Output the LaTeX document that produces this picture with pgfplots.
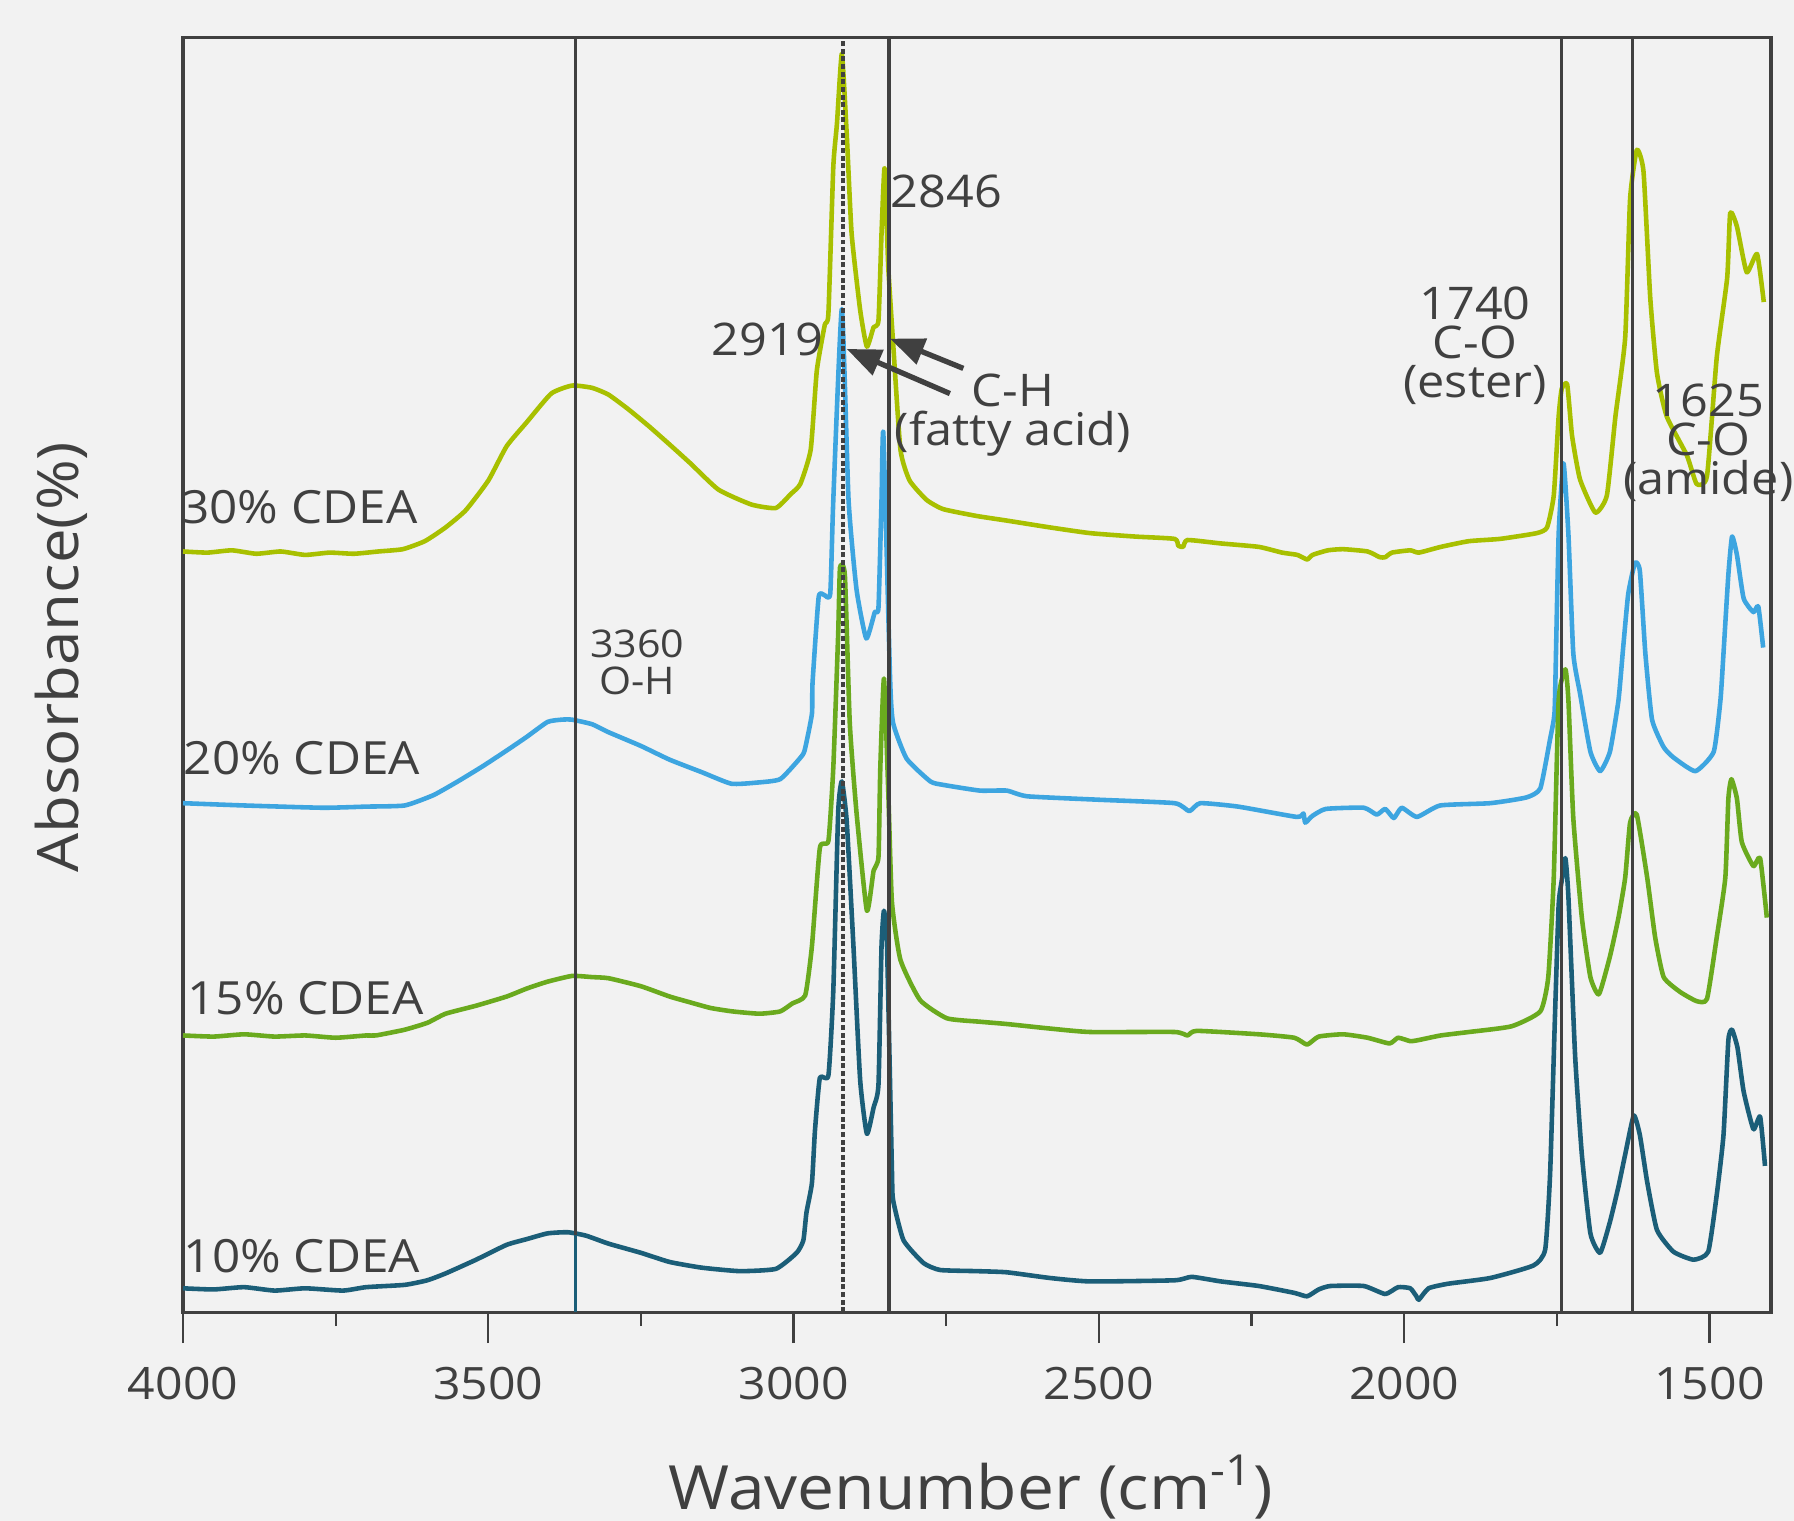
\documentclass[border=0pt]{standalone}
\usepackage{fontspec}
\setmainfont{Open Sans}[FakeStretch=1.08]
\usepackage{pgfplots}
\pgfplotsset{compat=1.18}
\usetikzlibrary{arrows.meta}

\definecolor{bg}{HTML}{F2F2F2}
\definecolor{ink}{HTML}{404040}
\definecolor{c30}{HTML}{A8C000}
\definecolor{c20}{HTML}{3DA5E0}
\definecolor{c15}{HTML}{6AAA1E}
\definecolor{c10}{HTML}{1B5E78}

\newcommand{\annfont}{\fontsize{11.8}{10.2}\selectfont}

\begin{document}
\begin{tikzpicture}
\path[use as bounding box, fill=bg] (0,0) rectangle (470.4pt,398.7pt);
\begin{axis}[
  at={(48pt,54.6pt)}, anchor=south west,
  width=416.4pt, height=334.2pt, scale only axis,
  x dir=reverse, xmin=1399, xmax=4000, ymin=0, ymax=1114,
  clip=false,
  axis line style={ink, line width=0.9pt},
  xtick={1500,2000,...,4000},
  minor xtick={1750,2250,2750,3250,3750},
  ytick=\empty,
  xtick pos=bottom, tick align=outside,
  major tick length=8.1pt, minor tick length=3.6pt,
  every tick/.style={ink, line width=0.6pt},
  /pgf/number format/assume math mode=true,
  /pgf/number format/set thousands separator={},
  xticklabel style={font=\fontsize{11.7}{14}\selectfont, text=ink, yshift=-2.7pt},
  xlabel={Wavenumber (cm\textsuperscript{-1})},
  xlabel style={at={(axis description cs:0.496,-0.137)}, anchor=center,
    font=\fontsize{16}{18}\selectfont, text=ink},
  ylabel={Absorbance(\%)},
  ylabel style={at={(axis description cs:-0.0767,0.514)}, anchor=center,
    font=\fontsize{15}{18}\selectfont, text=ink},
  no markers,
  every axis plot/.append style={line width=1.2pt, line join=round},
]
% 30% CDEA
\addplot[c30, smooth, tension=0.3] coordinates {
(4000,665)(3960,664)(3920,666)(3880,663)(3840,665)(3800,662)(3760,664)(3720,663)(3680,665)(3640,667)
(3604,674)(3570,686)(3537,701)(3500,727)(3470,757)(3437,778)(3397,803)(3363,810)(3330,808)(3303,802)
(3270,789)(3236,774)(3200,757)(3169,742)(3123,719)(3069,706)(3029,703)(3005,715)(2989,724)(2972,754)
(2962,823)(2949,863)(2943,873)(2935,1001)(2929,1039)(2921,1100)(2913,1030)(2905,943)(2891,876)(2880,844)
(2869,861)(2861,867)(2856,943)(2851,1000)(2845,914)(2837,847)(2825,754)(2810,727)(2782,710)(2755,702)
(2700,696)(2651,692)(2580,686)(2514,681)(2440,678)(2376,676)(2370,670)(2362,669)(2355,675)(2300,672)
(2238,669)(2200,664)(2175,662)(2159,658)(2150,662)(2125,666)(2100,667)(2060,665)(2040,660)(2031,660)
(2020,664)(1990,666)(1976,664)(1940,669)(1894,674)(1843,676)(1783,681)(1766,686)(1755,714)(1747,783)
(1742,807)(1733,811)(1725,766)(1712,728)(1687,699)(1668,714)(1654,783)(1638,852)(1630,973)(1619,1016)
(1608,997)(1597,887)(1586,821)(1570,783)(1537,749)(1521,724)(1504,731)(1488,835)(1471,904)(1466,961)
(1455,949)(1439,909)(1422,925)(1411,883)};
% 20% CDEA
\addplot[c20, smooth, tension=0.3] coordinates {
(4000,445)(3900,443)(3771,441)(3700,442)(3637,443)(3590,452)(3550,464)(3510,477)(3470,491)(3437,503)
(3403,516)(3380,518)(3363,518)(3330,514)(3303,507)(3250,495)(3203,483)(3150,472)(3102,462)(3060,463)
(3022,466)(2990,484)(2982,491)(2970,523)(2969,550)(2959,625)(2950,627)(2940,628)(2935,710)(2921,877)
(2910,710)(2897,632)(2881,589)(2867,612)(2861,616)(2856,710)(2853,768)(2842,554)(2837,515)(2815,484)
(2776,464)(2755,461)(2695,456)(2651,456)(2617,451)(2500,448)(2376,445)(2352,438)(2334,445)(2272,442)
(2176,433)(2165,436)(2162,428)(2150,434)(2128,440)(2066,441)(2045,435)(2031,440)(2017,432)(2004,441)
(1979,433)(1941,443)(1859,445)(1800,450)(1777,458)(1761,501)(1755,518)(1753,535)(1747,680)(1739,742)
(1731,680)(1723,576)(1712,541)(1695,490)(1679,473)(1663,490)(1649,535)(1641,583)(1633,628)(1622,655)
(1614,648)(1605,576)(1594,518)(1575,494)(1559,485)(1523,473)(1493,490)(1482,535)(1477,576)(1469,645)
(1463,678)(1455,662)(1444,624)(1428,612)(1420,617)(1412,581)};
% 15% CDEA
\addplot[c15, smooth, tension=0.3] coordinates {
(4000,242)(3950,241)(3900,243)(3850,241)(3800,242)(3750,240)(3700,242)(3684,242)(3637,247)(3600,253)
(3570,261)(3520,268)(3470,276)(3437,283)(3403,289)(3363,294)(3330,293)(3303,292)(3250,285)(3203,276)
(3170,271)(3136,266)(3100,263)(3056,261)(3022,263)(3002,270)(2981,277)(2970,320)(2957,406)(2943,412)
(2935,476)(2927,593)(2924,651)(2916,644)(2908,515)(2897,437)(2880,351)(2869,386)(2861,398)(2858,476)
(2852,554)(2845,456)(2839,359)(2825,308)(2793,273)(2749,257)(2695,254)(2651,252)(2580,248)(2514,245)
(2376,245)(2355,242)(2340,246)(2238,243)(2180,240)(2159,234)(2140,241)(2100,243)(2060,240)(2024,235)
(2010,240)(1990,237)(1976,238)(1940,242)(1894,245)(1824,250)(1777,263)(1764,293)(1755,380)(1747,535)
(1736,562)(1731,535)(1723,432)(1709,345)(1695,293)(1681,278)(1663,311)(1649,345)(1638,380)(1630,428)
(1619,435)(1602,380)(1589,328)(1575,293)(1548,280)(1521,272)(1504,274)(1488,328)(1474,380)(1469,449)
(1464,466)(1455,449)(1447,411)(1428,390)(1417,397)(1406,345)};
% 10% CDEA
\addplot[c10, smooth, tension=0.3] coordinates {
(4000,21)(3950,20)(3900,22)(3850,19)(3800,21)(3738,19)(3700,22)(3637,24)(3600,28)(3570,34)
(3520,46)(3470,59)(3437,64)(3403,69)(3370,70)(3340,67)(3303,60)(3250,52)(3203,44)(3150,39)
(3088,36)(3029,38)(2995,52)(2984,63)(2979,87)(2970,113)(2965,159)(2957,205)(2943,207)(2935,281)
(2927,437)(2921,464)(2913,429)(2902,320)(2891,203)(2880,156)(2869,179)(2861,199)(2856,320)(2852,351)
(2847,320)(2839,125)(2837,98)(2820,63)(2787,43)(2760,37)(2700,36)(2651,35)(2580,30)(2514,27)
(2376,28)(2348,31)(2300,27)(2238,23)(2180,17)(2159,14)(2140,20)(2121,23)(2066,23)(2031,16)
(2010,22)(1990,21)(1980,14)(1976,11)(1960,21)(1928,25)(1859,30)(1788,41)(1769,55)(1761,121)
(1753,259)(1747,356)(1742,377)(1736,397)(1731,363)(1720,224)(1709,138)(1695,69)(1679,52)(1663,79)
(1649,110)(1638,138)(1624,172)(1614,155)(1602,114)(1586,72)(1559,53)(1526,46)(1502,53)(1488,103)
(1477,155)(1469,238)(1463,247)(1454,231)(1444,193)(1428,160)(1417,171)(1409,128)};

% marker lines
\addplot[ink, line width=0.6pt] coordinates {(3357,0)(3357,1114)};
\addplot[c10, line width=0.6pt] coordinates {(3357,0)(3357,68)};
\addplot[ink, line width=0.9pt, dash pattern=on 1.3pt off 0.7pt] coordinates {(2919,0)(2919,1114)};
\addplot[ink, line width=0.9pt] coordinates {(2844,0)(2844,1114)};
\addplot[ink, line width=0.9pt] coordinates {(1742,0)(1742,1114)};
\addplot[ink, line width=0.9pt] coordinates {(1626,0)(1626,1114)};

% arrows
\draw[ink, line width=1.4pt, -{Triangle[length=9pt,width=7pt]}] (axis cs:2722,825) -- (axis cs:2842,851);
\draw[ink, line width=1.4pt, -{Triangle[length=9pt,width=7pt]}] (axis cs:2744,803) -- (axis cs:2913,842);

% annotations
\node[anchor=west, inner sep=0pt, text=ink, font=\annfont] at (axis cs:2842,980) {2846};
\node[anchor=east, inner sep=0pt, text=ink, font=\annfont] at (axis cs:2951,850) {2919};
\node[align=center, inner sep=0pt, text=ink, font=\annfont] at (axis cs:2641,784) {C-H\\(fatty acid)};
\node[align=center, inner sep=0pt, text=ink, font=\annfont] at (axis cs:1884,845) {1740\\C-O\\(ester)};
\node[align=center, inner sep=0pt, text=ink, font=\annfont] at (axis cs:1502,760) {1625\\C-O\\(amide)};
\node[align=center, inner sep=0pt, text=ink, font=\fontsize{10}{9.5}\selectfont] at (axis cs:3256,568) {3360\\O-H};

\node[anchor=west, inner sep=0pt, text=ink, font=\fontsize{12}{14}\selectfont] at (axis cs:4004,704) {30\% CDEA};
\node[anchor=west, inner sep=0pt, text=ink, font=\fontsize{12}{14}\selectfont] at (axis cs:4000,484) {20\% CDEA};
\node[anchor=west, inner sep=0pt, text=ink, font=\fontsize{12}{14}\selectfont] at (axis cs:3994,275) {15\% CDEA};
\node[anchor=west, inner sep=0pt, text=ink, font=\fontsize{12}{14}\selectfont] at (axis cs:4000,49) {10\% CDEA};
\end{axis}
\end{tikzpicture}
\end{document}
